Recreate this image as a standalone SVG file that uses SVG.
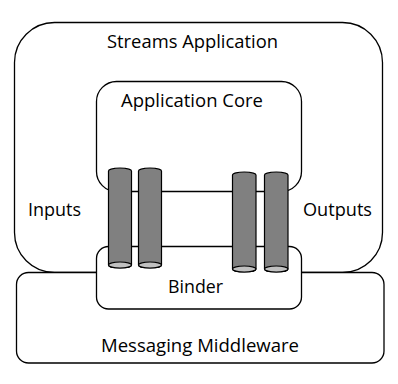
<svg xmlns="http://www.w3.org/2000/svg" width="398" height="384" viewBox="0 0 398 384">
<style>
.box{fill:#fff;stroke:#000;stroke-width:1.3}
.cyl{fill:#808080;stroke:#000;stroke-width:1.2}
.cylb{fill:#c0c0c0;stroke:#000;stroke-width:1.2}
text{font-family:"Open Sans","Liberation Sans",sans-serif;font-size:19px;fill:#000}
</style>
<rect width="398" height="384" fill="#fff"/>
<g id="streams-application">
<rect class="box" x="14.5" y="22.5" width="368" height="250" rx="40"/>
<text x="107" y="48" textLength="171" lengthAdjust="spacingAndGlyphs">Streams Application</text>
<text x="28" y="216" textLength="53" lengthAdjust="spacingAndGlyphs">Inputs</text>
<text x="303" y="216" textLength="69" lengthAdjust="spacingAndGlyphs">Outputs</text>
</g>
<g id="messaging-middleware">
<rect class="box" x="16.5" y="272.5" width="367.5" height="90.5" rx="12"/>
<text x="101" y="352" textLength="198" lengthAdjust="spacingAndGlyphs">Messaging Middleware</text>
</g>
<g id="binder">
<rect class="box" x="96.5" y="246.5" width="205" height="62.5" rx="12"/>
<text x="168" y="293" textLength="55" lengthAdjust="spacingAndGlyphs">Binder</text>
</g>
<g id="application-core">
<rect class="box" x="96.5" y="81.5" width="205" height="110" rx="20"/>
<text x="121" y="107" textLength="142" lengthAdjust="spacingAndGlyphs">Application Core</text>
</g>
<g id="connectors"></g>
<g id="input-1">
<path class="cyl" d="M108.5,171 A11.5,3 0 0 1 131.5,171 L131.5,265 A11.5,3 0 0 1 108.5,265 Z"/>
<ellipse class="cylb" cx="120" cy="265" rx="11.5" ry="3"/>
</g>
<g id="input-2">
<path class="cyl" d="M138.5,171 A11.5,3 0 0 1 161.5,171 L161.5,265 A11.5,3 0 0 1 138.5,265 Z"/>
<ellipse class="cylb" cx="150" cy="265" rx="11.5" ry="3"/>
</g>
<g id="output-1">
<path class="cyl" d="M232.5,175 A11.75,3 0 0 1 256,175 L256,269 A11.75,3 0 0 1 232.5,269 Z"/>
<ellipse class="cylb" cx="244.25" cy="269" rx="11.75" ry="3"/>
</g>
<g id="output-2">
<path class="cyl" d="M264.5,175 A11.75,3 0 0 1 288,175 L288,269 A11.75,3 0 0 1 264.5,269 Z"/>
<ellipse class="cylb" cx="276.25" cy="269" rx="11.75" ry="3"/>
</g>
</svg>
